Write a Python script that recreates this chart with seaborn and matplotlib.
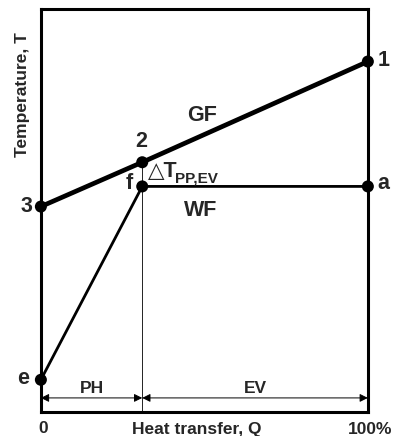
import matplotlib
matplotlib.use("Agg")
import matplotlib.pyplot as plt
import seaborn as sns
import pandas as pd

# Gas-fluid (GF) line through points 3 -> 2 -> 1
gf_q = [0, 31, 100]
gf_t = [51, 62, 87]
gf_names = ["3", "2", "1"]

# Working-fluid (WF) line through points e -> f -> a
wf_q = [0, 31, 100]
wf_t = [8, 56, 56]
wf_names = ["e", "f", "a"]

# Section labels (preheater / evaporator) and their Q ranges
sections = ["PH", "EV"]
section_start = [0, 31]
section_end = [31, 100]

x_tick_labels = ["0", "100%"]

sns.set_style("white")
plt.rcParams["font.family"] = ["Liberation Sans", "DejaVu Sans"]
plt.rcParams["font.weight"] = "bold"

fig = plt.figure(figsize=(3.93, 4.36), dpi=100)
ax = fig.add_axes([0.104, 0.055, 0.832, 0.924])

gf = pd.DataFrame({"Q": gf_q, "T": gf_t})
wf = pd.DataFrame({"Q": wf_q, "T": wf_t})

sns.lineplot(data=gf, x="Q", y="T", ax=ax, color="black", lw=3.4,
             sort=False, estimator=None, zorder=3)
sns.lineplot(data=wf, x="Q", y="T", ax=ax, color="black", lw=2.0,
             sort=False, estimator=None, zorder=3)

# pinch-point vertical guide
ax.plot([gf_q[1], gf_q[1]], [0, gf_t[1]], color="black", lw=0.6, zorder=2)

sns.scatterplot(x=gf_q, y=gf_t, ax=ax, color="black", s=75,
                edgecolor="none", zorder=5, clip_on=False)
sns.scatterplot(x=wf_q, y=wf_t, ax=ax, color="black", s=75,
                edgecolor="none", zorder=5, clip_on=False)

ax.set_xlim(0, 100)
ax.set_ylim(0, 100)
ax.set_xticks([])
ax.set_yticks([])
ax.set_xlabel("")
ax.set_ylabel("")
for sp in ax.spines.values():
    sp.set_visible(True)
    sp.set_color("black")
    sp.set_linewidth(2.2)

fs = 15.5
# point labels
ax.text(gf_q[0] - 2.5, gf_t[0], gf_names[0], ha="right", va="center", fontsize=fs, fontweight="bold")
ax.text(gf_q[1] - 0.3, gf_t[1] + 2.6, gf_names[1], ha="center", va="bottom", fontsize=fs, fontweight="bold")
ax.text(gf_q[2] + 3.0, gf_t[2] + 0.3, gf_names[2], ha="left", va="center", fontsize=fs, fontweight="bold")
ax.text(wf_q[0] - 3.5, wf_t[0] + 0.3, wf_names[0], ha="right", va="center", fontsize=fs, fontweight="bold")
ax.text(wf_q[1] - 3.0, wf_t[1] + 0.8, wf_names[1], ha="right", va="center", fontsize=fs, fontweight="bold")
ax.text(wf_q[2] + 3.0, wf_t[2] + 0.8, wf_names[2], ha="left", va="center", fontsize=fs, fontweight="bold")

ax.text(49.2, 73.7, "GF", ha="center", va="center", fontsize=fs, fontweight="bold")
ax.text(49.0, 50.0, "WF", ha="center", va="center", fontsize=fs, fontweight="bold")

# pinch-point temperature difference label
ax.text(32.6, 59.6, "\u25b3T", ha="left", va="center", fontsize=fs,
        fontweight="bold", family=["Liberation Sans", "DejaVu Sans"])
ax.text(41.0, 58.0, "PP,EV", ha="left", va="center", fontsize=11,
        fontweight="bold")

# section arrows
arrow_y = 3.5
for name, a, b in zip(sections, section_start, section_end):
    ax.annotate("", xy=(a, arrow_y), xytext=(b, arrow_y),
                arrowprops=dict(arrowstyle="<|-|>", lw=0.7, color="black",
                                mutation_scale=12, shrinkA=0, shrinkB=0))
    ax.text((a + b) / 2, arrow_y + 0.6, name, ha="center", va="bottom",
            fontsize=12.5, fontweight="bold")

# axis texts
ax.text(0.6, -2.3, x_tick_labels[0], ha="center", va="top",
        fontsize=12.5, fontweight="bold", clip_on=False)
fig.text(392 / 393, 1 - 429 / 436, x_tick_labels[1], ha="right", va="center",
         fontsize=12.5, fontweight="bold")
fig.text(197 / 393, 1 - 429 / 436, "Heat transfer, Q", ha="center", va="center",
         fontsize=12.5, fontweight="bold")
fig.text(23 / 393, 1 - 95 / 436, "Temperature, T", ha="center", va="center",
         rotation=90, fontsize=12.5, fontweight="bold")

fig.savefig("out.png", dpi=100)
